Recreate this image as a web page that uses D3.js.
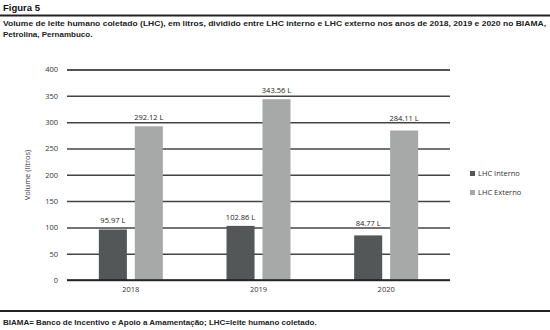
<!DOCTYPE html>
<html>
<head>
<meta charset="utf-8">
<script src="https://cdn.jsdelivr.net/npm/d3@7"></script>
<style>
  html, body { margin: 0; padding: 0; background: #fff; }
  svg { display: block; }
</style>
</head>
<body>
<svg id="chart" width="550" height="330"></svg>
<script>
// Collected human milk volumes (litres) per year, split by source
const years = ["2018", "2019", "2020"];
const seriesNames = ["LHC Interno", "LHC Externo"];
const interno = [95.97, 102.86, 84.77];
const externo = [292.12, 343.56, 284.11];
const yTicks = [0, 50, 100, 150, 200, 250, 300, 350, 400];
const seriesColors = ["#545757", "#a7a9a9"];

const svg = d3.select("#chart");
const chartFont = "'Open Sans', 'Noto Sans', sans-serif";
const headFont = "'Liberation Sans', Arial, sans-serif";

// Header
svg.append("text")
  .attr("x", 3).attr("y", 11)
  .attr("font-family", headFont).attr("font-weight", "bold")
  .attr("font-size", 9.5).attr("fill", "#111")
  .text("Figura 5");
svg.append("line")
  .attr("x1", 0).attr("x2", 550).attr("y1", 15.5).attr("y2", 15.5)
  .attr("stroke", "#222").attr("stroke-width", 2);
svg.append("text")
  .attr("x", 3).attr("y", 26)
  .attr("font-family", headFont).attr("font-weight", "bold")
  .attr("font-size", 8).attr("fill", "#222")
  .attr("textLength", 543).attr("lengthAdjust", "spacingAndGlyphs")
  .text("Volume de leite humano coletado (LHC), em litros, dividido entre LHC interno e LHC externo nos anos de 2018, 2019 e 2020 no BIAMA,");
svg.append("text")
  .attr("x", 3).attr("y", 37)
  .attr("font-family", headFont).attr("font-weight", "bold")
  .attr("font-size", 8).attr("fill", "#222")
  .text("Petrolina, Pernambuco.");

// Footer
svg.append("line")
  .attr("x1", 0).attr("x2", 550).attr("y1", 311).attr("y2", 311)
  .attr("stroke", "#222").attr("stroke-width", 2);
svg.append("text")
  .attr("x", 3).attr("y", 325)
  .attr("font-family", headFont).attr("font-weight", "bold")
  .attr("font-size", 8).attr("fill", "#222")
  .text("BIAMA= Banco de Incentivo e Apoio a Amamentação; LHC=leite humano coletado.");

// Scales
const x0 = d3.scaleBand().domain(years).range([67, 450]).padding(0);
const bw = x0.bandwidth();
const x1 = d3.scaleBand().domain(seriesNames)
  .range([bw / 2 - 32, bw / 2 + 32]).paddingInner(0.22).paddingOuter(0);
const y = d3.scaleLinear().domain([0, 400]).range([280, 69.5]);

// Gridlines and y tick labels
const yAxis = svg.append("g")
  .attr("transform", "translate(67,0)")
  .call(d3.axisLeft(y).tickValues(yTicks).tickSize(-(450 - 67)).tickPadding(9));
yAxis.select(".domain").remove();
yAxis.selectAll(".tick line")
  .attr("stroke", d => d === 400 ? "#1a1a1a" : "#444")
  .attr("stroke-width", 1.5);
yAxis.selectAll(".tick text")
  .attr("font-family", chartFont).attr("font-size", 7.5).attr("fill", "#333");

// Y axis title
svg.append("text")
  .attr("transform", "translate(30,175) rotate(-90)")
  .attr("text-anchor", "middle")
  .attr("font-family", chartFont).attr("font-size", 7.5).attr("fill", "#333")
  .text("Volume (litros)");

// Value label baseline: a few px above the bar, lifted above a gridline it would cross
const capHeight = 5.5;
function labelBaseline(v) {
  let b = y(v) - 6;
  yTicks.forEach(t => {
    const g = y(t);
    if (b + 0.5 >= g && b - capHeight - 1 <= g) b = g - 1.2;
  });
  return b;
}

// Bars
const rows = years.map((yr, i) => ({ year: yr, values: [interno[i], externo[i]] }));
const groups = svg.append("g").selectAll("g")
  .data(rows).join("g")
  .attr("transform", d => `translate(${x0(d.year)},0)`);

const bars = groups.selectAll("g.bar")
  .data(d => d.values.map((v, k) => ({ name: seriesNames[k], value: v, k })))
  .join("g").attr("class", "bar");

bars.append("rect")
  .attr("x", d => x1(d.name))
  .attr("width", x1.bandwidth())
  .attr("y", d => y(d.value))
  .attr("height", d => y(0) - y(d.value))
  .attr("fill", d => seriesColors[d.k]);

bars.append("text")
  .attr("x", d => x1(d.name) + x1.bandwidth() / 2)
  .attr("y", d => labelBaseline(d.value))
  .attr("text-anchor", "middle")
  .attr("font-family", chartFont).attr("font-size", 7.5).attr("fill", "#222")
  .text(d => d3.format(".2f")(d.value) + " L");

// Zero baseline
svg.append("line")
  .attr("x1", 67).attr("x2", 450).attr("y1", y(0)).attr("y2", y(0))
  .attr("stroke", "#1a1a1a").attr("stroke-width", 1.5);

// Year labels
const xAxis = svg.append("g")
  .attr("transform", `translate(0,${y(0)})`)
  .call(d3.axisBottom(x0).tickSize(0).tickPadding(7));
xAxis.select(".domain").remove();
xAxis.selectAll(".tick text")
  .attr("font-family", chartFont).attr("font-size", 7.5).attr("fill", "#333");

// Legend
const legend = svg.append("g").selectAll("g")
  .data(seriesNames).join("g")
  .attr("transform", (d, i) => `translate(470,${171 + i * 19})`);
legend.append("rect")
  .attr("width", 5).attr("height", 5)
  .attr("fill", (d, i) => seriesColors[i]);
legend.append("text")
  .attr("x", 8).attr("y", 5)
  .attr("font-family", chartFont).attr("font-size", 7.5).attr("fill", "#333")
  .text(d => d);
</script>
</body>
</html>
